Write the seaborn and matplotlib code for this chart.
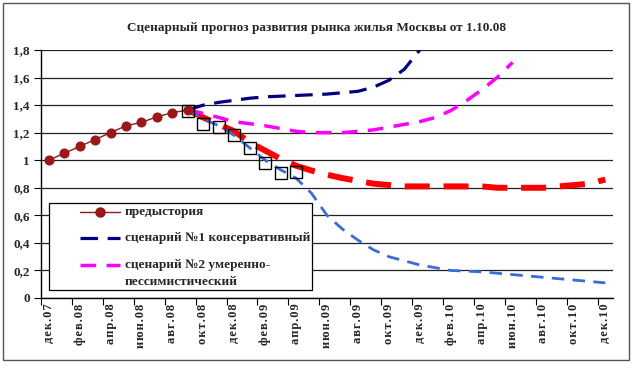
import numpy as np
import pandas as pd
import matplotlib
matplotlib.use("Agg")
import matplotlib.pyplot as plt
import seaborn as sns
from matplotlib.patches import Rectangle
from matplotlib.lines import Line2D

# ---------------- data ----------------
title = "Сценарный прогноз развития рынка жилья Москвы от 1.10.08"
tick_labels = ["дек.07", "фев.08", "апр.08", "июн.08", "авг.08", "окт.08", "дек.08",
               "фев.09", "апр.09", "июн.09", "авг.09", "окт.09", "дек.09", "фев.10",
               "апр.10", "июн.10", "авг.10", "окт.10", "дек.10"]

# month index 0 = дек.07 ... 36 = дек.10
history_idx = list(range(0, 10))
history_val = [1.00, 1.05, 1.10, 1.15, 1.20, 1.25, 1.275, 1.315, 1.345, 1.365]

actual_idx = list(range(9, 17))
actual_val = [1.36, 1.26, 1.24, 1.18, 1.09, 0.98, 0.905, 0.915]

sc1_idx = list(range(9, 25))
sc1_val = [1.365, 1.40, 1.42, 1.435, 1.45, 1.46, 1.465, 1.47, 1.475, 1.48, 1.49,
           1.50, 1.53, 1.58, 1.66, 1.80]

sc2_idx = list(range(9, 31))
sc2_val = [1.365, 1.34, 1.31, 1.28, 1.265, 1.25, 1.23, 1.21, 1.20, 1.20, 1.20,
           1.21, 1.22, 1.24, 1.26, 1.28, 1.31, 1.36, 1.43, 1.51, 1.60, 1.71]

sc3_idx = list(range(9, 37))
sc3_val = [1.365, 1.31, 1.26, 1.21, 1.13, 1.07, 1.01, 0.96, 0.925, 0.895, 0.87,
           0.85, 0.83, 0.82, 0.81, 0.81, 0.81, 0.81, 0.81, 0.81, 0.80, 0.80,
           0.80, 0.80, 0.81, 0.82, 0.83, 0.86]

sc4_idx = list(range(9, 37))
sc4_val = [1.365, 1.30, 1.25, 1.18, 1.09, 1.00, 0.93, 0.87, 0.76, 0.60, 0.50,
           0.42, 0.35, 0.30, 0.27, 0.24, 0.22, 0.20, 0.195, 0.19, 0.18, 0.17,
           0.16, 0.15, 0.14, 0.13, 0.12, 0.11]

legend_labels = ["предыстория", "сценарий №1 консервативный",
                 "сценарий №2 умеренно-", "пессимистический"]

# ---------------- style ----------------
sns.set_style("white")
plt.rcParams["font.family"] = ["Liberation Serif", "DejaVu Serif"]
plt.rcParams["font.weight"] = "bold"

W, H = 635, 369
fig = plt.figure(figsize=(W / 100, H / 100), dpi=100)


def P(x, y):
    return (x / W, 1 - y / H)


ax = fig.add_axes([41 / W, 1 - 298 / H, 572 / W, 248 / H])

RED = dict(color="#FF0000", lw=4.3, linestyle=(0, (4.2, 2.3)))
BLUE = dict(color="#3A6BD6", lw=2.0, linestyle=(0, (4.5, 3.0)))
NAVY = dict(color="#000080", lw=2.3, linestyle=(0, (5.5, 3.0)))
MAG = dict(color="#FF00FF", lw=2.5, linestyle=(0, (4.5, 3.0)))
HIST = dict(color="#8B1A1A", lw=1.0, marker="o", markersize=6.5,
            markerfacecolor="#A01515", markeredgecolor="#8B1A1A")

sns.lineplot(x=sc3_idx, y=sc3_val, ax=ax, zorder=2, **RED)
sns.lineplot(x=sc4_idx, y=sc4_val, ax=ax, zorder=3, **BLUE)
sns.lineplot(x=sc1_idx, y=sc1_val, ax=ax, zorder=4, **NAVY)
sns.lineplot(x=sc2_idx, y=sc2_val, ax=ax, zorder=4, **MAG)
sns.lineplot(x=history_idx, y=history_val, ax=ax, zorder=5, **HIST)
sns.lineplot(x=actual_idx, y=actual_val, ax=ax, linestyle="", marker="s",
             markersize=9, markerfacecolor="none", markeredgecolor="black",
             markeredgewidth=1.0, zorder=6)

ax.set_xlim(-0.5, 36.5)
ax.set_ylim(0, 1.8)

yt = np.round(np.arange(0, 1.81, 0.2), 1)
ax.set_yticks(yt)
ax.set_yticklabels([f"{v:g}".replace(".", ",") for v in yt], fontsize=9.5,
                   fontweight="bold")
ax.yaxis.grid(True, color="#222222", lw=0.9)
ax.set_axisbelow(True)

HS = "\u200a"
ax.set_xticks(list(range(0, 37, 2)))
ax.set_xticklabels([HS.join(t) for t in tick_labels], rotation=90,
                   fontsize=9, fontweight="bold")
ax.set_xticks(list(np.arange(-0.5, 36.6, 2)), minor=True)
ax.tick_params(axis="x", which="major", length=0, pad=4)
ax.tick_params(axis="x", which="minor", length=5, width=0.8, color="black",
               direction="out", bottom=True)
ax.tick_params(axis="y", which="major", length=5, width=0.8, color="black",
               direction="out", left=True, pad=3)

for s in ["top", "right"]:
    ax.spines[s].set_visible(False)
for s in ["left", "bottom"]:
    ax.spines[s].set_color("black")
    ax.spines[s].set_linewidth(1.0)

ax.set_xlabel("")
ax.set_ylabel("")

fig.text(*P(317, 28), title, ha="center", va="center", fontsize=9.5,
         fontweight="bold")

# ---- legend box (drawn like the Excel legend) ----
x0, y0, x1, y1 = 49, 203, 312, 290
fig.add_artist(Rectangle(P(x0, y1), (x1 - x0) / W, (y1 - y0) / H,
                         transform=fig.transFigure, facecolor="white",
                         edgecolor="black", lw=0.9, zorder=5))
rows = [212, 238, 265]
styles = [HIST, NAVY, MAG]
for ry, st in zip(rows, styles):
    (hx0, hy), (hx1, _) = P(80, ry), P(120, ry)
    kw = dict(st)
    if "marker" in kw:
        ln = Line2D([hx0, hx1], [hy, hy], transform=fig.transFigure,
                    color=kw["color"], lw=kw["lw"], zorder=6)
        fig.add_artist(ln)
        mk = Line2D([(hx0 + hx1) / 2], [hy], transform=fig.transFigure,
                    linestyle="", marker="o", markersize=kw["markersize"],
                    markerfacecolor=kw["markerfacecolor"],
                    markeredgecolor=kw["markeredgecolor"], zorder=7)
        fig.add_artist(mk)
    else:
        ln = Line2D([hx0, hx1], [hy, hy], transform=fig.transFigure,
                    color=kw["color"], lw=kw["lw"], linestyle=kw["linestyle"],
                    zorder=6)
        fig.add_artist(ln)
text_rows = [212, 238, 265, 282]
for ty, lab in zip(text_rows, legend_labels):
    fig.text(*P(125, ty), lab, ha="left", va="center", fontsize=9.5,
             fontweight="bold", zorder=8)

# outer chart border
fig.add_artist(Rectangle(P(3, 360), 626 / W, 357 / H,
                         transform=fig.transFigure, fill=False,
                         edgecolor="#555555", lw=1.0, zorder=0))

fig.savefig("out.png", dpi=100)
